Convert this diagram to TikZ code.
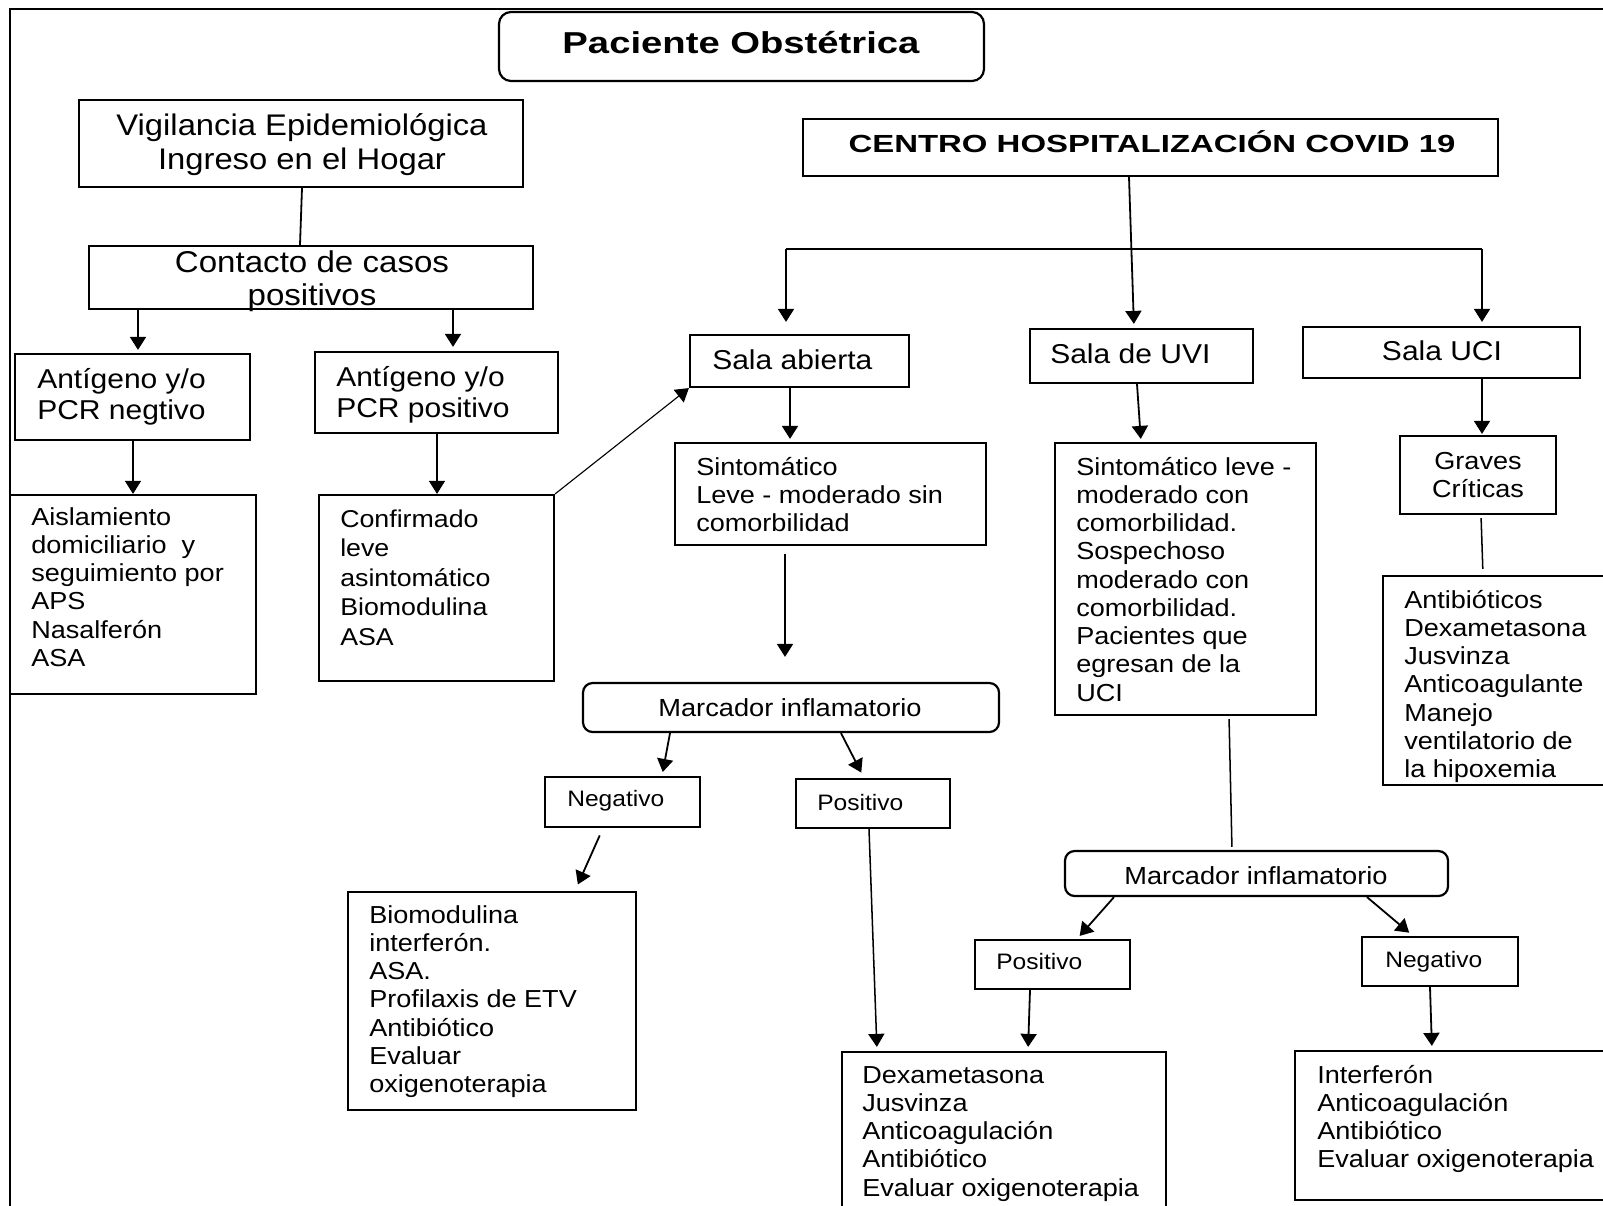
\documentclass[tikz,border=0pt]{standalone}
\usepackage{fontspec}
\usepackage{graphicx}
\setmainfont{Liberation Sans}[FakeStretch=1.1]
\usetikzlibrary{arrows.meta,fit,calc}

% font sizes used in the chart
\newcommand{\fztitle}{\fontsize{21.5pt}{25pt}\selectfont}
\newcommand{\fzhead}{\fontsize{17.6pt}{21pt}\selectfont}
\newcommand{\fzvig}{\fontsize{21.2pt}{24.2pt}\selectfont}
\newcommand{\fzcont}{\fontsize{21.4pt}{24pt}\selectfont}
\newcommand{\fzant}{\fontsize{19.4pt}{22.4pt}\selectfont}
\newcommand{\fzsala}{\fontsize{19.4pt}{22pt}\selectfont}
\newcommand{\fzbody}{\fontsize{17.5pt}{20.1pt}\selectfont}
\newcommand{\fzconf}{\fontsize{17.3pt}{21.1pt}\selectfont}
\newcommand{\fzsmall}{\fontsize{15.9pt}{18pt}\selectfont}
\newcommand{\fzmarc}{\fontsize{17.6pt}{20pt}\selectfont}
\newcommand{\lft}[1]{\begin{tabular}[t]{@{}l@{}}#1\end{tabular}}
\newcommand{\ctr}[1]{\begin{tabular}[t]{@{}c@{}}#1\end{tabular}}

\begin{document}
\begin{tikzpicture}[x=0.25mm, y=-0.25mm,
  box/.style={draw=black, line width=0.55mm, inner sep=0pt},
  rbox/.style={box, rounded corners=2.4mm},
  txt/.style={inner sep=0pt, font=\fzbody},
  ln/.style={line width=0.45mm, black},
  thinln/.style={line width=0.28mm, black},
  arr/.style={ln, -{Triangle[length=3.25mm, width=4mm]}},
  thinarr/.style={thinln, -{Triangle[length=3.25mm, width=4mm]}}]
\useasboundingbox (0,0) rectangle (1603,1205);
\clip (0,0) rectangle (1603,1205);
\fill[white] (0,0) rectangle (1603,1205);

% outer frame
\draw[line width=0.5mm] (10,9) rectangle (1630,1230);

% ---------- boxes ----------
\node[rbox, fit={(499,12) (984,81)}, rounded corners=3mm] (title) {};
\node[box, fit={(79,100) (523,187)}] (vig) {};
\node[box, fit={(89,246) (533,309)}] (cont) {};
\node[box, fit={(15,354) (250,440)}] (antneg) {};
\node[box, fit={(315,352) (558,433)}] (antpos) {};
\node[box, fit={(10,495) (256,694)}] (aisl) {};
\node[box, fit={(319,495) (554,681)}] (conf) {};
\node[box, fit={(803,119) (1498,176)}] (centro) {};
\node[box, fit={(690,335) (909,387)}] (sala) {};
\node[box, fit={(1030,329) (1253,383)}] (uvi) {};
\node[box, fit={(1303,327) (1580,378)}] (uci) {};
\node[box, fit={(675,443) (986,545)}] (sint) {};
\node[box, fit={(1055,443) (1316,715)}] (sintleve) {};
\node[box, fit={(1400,436) (1556,514)}] (graves) {};
\node[box, fit={(1383,576) (1640,785)}] (antib) {};
\node[rbox, fit={(583,683) (999,732)}] (marc1) {};
\node[box, fit={(545,777) (700,827)}] (neg1) {};
\node[box, fit={(796,779) (950,828)}] (pos1) {};
\node[box, fit={(348,892) (636,1110)}] (bio) {};
\node[box, fit={(842,1052) (1166,1240)}] (dexa) {};
\node[rbox, fit={(1065,851) (1448,896)}] (marc2) {};
\node[box, fit={(975,940) (1130,989)}] (pos2) {};
\node[box, fit={(1362,937) (1518,986)}] (neg2) {};
\node[box, fit={(1295,1051) (1640,1200)}] (interf) {};

% ---------- texts ----------
\node[txt, anchor=base] (title-t) at (741,53)
  {\scalebox{1.15}[1]{\fztitle\bfseries Paciente Obstétrica}};
\node[txt, anchor=base] (centro-t) at (1152,152)
  {\scalebox{1.21}[1]{\fzhead\bfseries CENTRO HOSPITALIZACIÓN COVID 19}};
\node[txt, anchor=base, font=\fzvig] (vig-t) at (302,135)
  {\ctr{Vigilancia Epidemiológica\\Ingreso en el Hogar}};
\node[txt, anchor=base, font=\fzcont] (cont-t) at (312,272)
  {\ctr{Contacto de casos\\positivos}};
\node[txt, anchor=base west, font=\fzant] (antneg-t) at (37,388)
  {\lft{Antígeno y/o\\PCR negtivo}};
\node[txt, anchor=base west, font=\fzant] (antpos-t) at (336,386)
  {\lft{Antígeno y/o\\PCR positivo}};
\node[txt, anchor=base west] (aisl-t) at (31,525)
  {\lft{Aislamiento\\domiciliario~ y\\seguimiento por\\APS\\Nasalferón\\ASA}};
\node[txt, anchor=base west, font=\fzconf] (conf-t) at (340,527)
  {\lft{Confirmado\\leve\\asintomático\\Biomodulina\\ASA}};
\node[txt, anchor=base west, font=\fzsala] (sala-t) at (712,369) {Sala abierta};
\node[txt, anchor=base west, font=\fzsala] (uvi-t) at (1050,363) {Sala de UVI};
\node[txt, anchor=base, font=\fzsala] (uci-t) at (1442,360) {Sala UCI};
\node[txt, anchor=base west] (sint-t) at (696,475)
  {\lft{Sintomático\\Leve - moderado sin\\comorbilidad}};
\node[txt, anchor=base west] (sintleve-t) at (1076,475)
  {\lft{Sintomático leve -\\moderado con\\comorbilidad.\\Sospechoso\\moderado con\\comorbilidad.\\Pacientes que\\egresan de la\\UCI}};
\node[txt, anchor=base] (graves-t) at (1478,469)
  {\ctr{Graves\\Críticas}};
\node[txt, anchor=base west] (antib-t) at (1404,608)
  {\lft{Antibióticos\\Dexametasona\\Jusvinza\\Anticoagulante\\Manejo\\ventilatorio de\\la hipoxemia}};
\node[txt, anchor=base, font=\fzmarc] (marc1-t) at (790,716) {Marcador inflamatorio};
\node[txt, anchor=base west, font=\fzsmall] (neg1-t) at (567,806) {Negativo};
\node[txt, anchor=base west, font=\fzsmall] (pos1-t) at (817,810) {Positivo};
\node[txt, anchor=base west] (bio-t) at (369,923)
  {\lft{Biomodulina\\interferón.\\ASA.\\Profilaxis de ETV\\Antibiótico\\Evaluar\\oxigenoterapia}};
\node[txt, anchor=base west] (dexa-t) at (862,1083)
  {\lft{Dexametasona\\Jusvinza\\Anticoagulación\\Antibiótico\\Evaluar oxigenoterapia}};
\node[txt, anchor=base, font=\fzmarc] (marc2-t) at (1256,884) {Marcador inflamatorio};
\node[txt, anchor=base west, font=\fzsmall] (pos2-t) at (996,969) {Positivo};
\node[txt, anchor=base west, font=\fzsmall] (neg2-t) at (1385,967) {Negativo};
\node[txt, anchor=base west] (interf-t) at (1317,1083)
  {\lft{Interferón\\Anticoagulación\\Antibiótico\\Evaluar oxigenoterapia}};

% ---------- connectors ----------
% home surveillance branch
\draw[ln] (vig.south -| 302,0) -- (cont.north -| 300,0);
\draw[arr, shorten >=0.75mm] (cont.south -| 138,0) -- (antneg.north -| 138,0);
\draw[arr, shorten >=1mm] (cont.south -| 453,0) -- (antpos.north -| 453,0);
\draw[thinarr] (antneg.south -| 133,0) -- (aisl.north -| 133,0);
\draw[thinarr] (antpos.south -| 437,0) -- (conf.north -| 437,0);
\draw[thinarr] (conf.north east) -- (sala.south west);

% hospital branch
\coordinate (bl) at (786,249);
\coordinate (br) at (1482,249);
\draw[ln] (bl) -- (br);
\draw[arr, shorten >=1mm] (centro.south -| 1129,0) -- (uvi.north -| 1134,0);
\draw[arr, shorten >=3mm] (bl) -- (bl |- sala.north);
\draw[arr, shorten >=1mm] (br) -- (br |- uci.north);
\draw[arr, shorten >=0.75mm] (sala.south -| 790,0) -- (sint.north -| 790,0);
\draw[arr, shorten >=0.75mm] (uvi.south -| 1137,0) -- (sintleve.north -| 1141,0);
\draw[arr, shorten >=0.25mm] (uci.south -| 1482,0) -- (graves.north -| 1482,0);

% open ward
\draw[arr, shorten <=2mm, shorten >=6.25mm] (sint.south -| 785,0) -- (marc1.north -| 785,0);
\draw[arr, shorten >=1mm] (marc1.south -| 670,0) -- (neg1.north -| 662,0);
\draw[arr, shorten >=1.5mm] (marc1.south -| 841,0) -- (pos1.north -| 864,0);
\draw[arr, shorten <=2mm, shorten >=1.75mm] (neg1.south -| 603,0) -- (bio.north -| 575,0);
\draw[arr, line width=0.38mm, shorten >=1mm] (pos1.south -| 869,0) -- (dexa.north -| 877,0);

% intermediate care
\draw[ln, line width=0.38mm, shorten <=0.75mm, shorten >=0.75mm] (sintleve.south -| 1229,0) -- (marc2.north -| 1232,0);
\draw[arr, shorten >=1mm] (marc2.south -| 1114,0) -- (pos2.north -| 1077,0);
\draw[arr, shorten >=1.25mm] (marc2.south -| 1367,0) -- (neg2.north -| 1413,0);
\draw[arr, shorten >=1mm] (pos2.south -| 1030,0) -- (dexa.north -| 1028,0);
\draw[arr, shorten >=1mm] (neg2.south -| 1430,0) -- (interf.north -| 1432,0);

% intensive care
\draw[ln, line width=0.38mm, shorten <=0.75mm, shorten >=1.5mm] (graves.south -| 1481,0) -- (antib.north -| 1483,0);
\end{tikzpicture}
\end{document}
